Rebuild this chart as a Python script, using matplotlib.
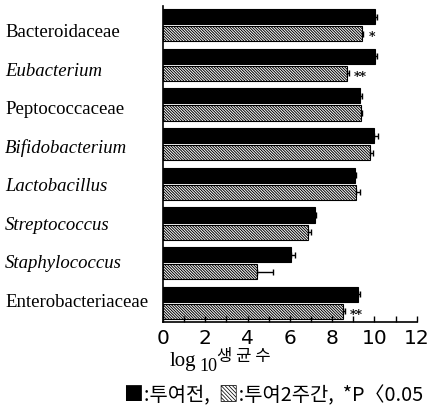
import matplotlib
matplotlib.use("Agg")
import matplotlib.pyplot as plt
import numpy as np

categories = ["Bacteroidaceae", "Eubacterium", "Peptococcaceae", "Bifidobacterium",
              "Lactobacillus", "Streptococcus", "Staphylococcus", "Enterobacteriaceae"]
italic_flags = [False, True, False, True, True, True, True, False]
before_vals = [10.05, 10.05, 9.3, 10.0, 9.08, 7.2, 6.05, 9.2]
before_err = [0.05, 0.05, 0.12, 0.15, 0.05, 0.05, 0.2, 0.1]
after_vals = [9.4, 8.7, 9.35, 9.78, 9.15, 6.85, 4.45, 8.52]
after_err = [0.08, 0.08, 0.05, 0.15, 0.15, 0.15, 0.75, 0.08]
signif = ["*", "**", "", "", "", "", "", "**"]
xticks = [0, 2, 4, 6, 8, 10, 12]

plt.rcParams['hatch.linewidth'] = 0.7
fig = plt.figure(figsize=(4.45, 4.06), dpi=100)
ax = fig.add_axes([163/445, 1-323/406, (416.7-163)/445, (323-7)/406])

y = np.arange(len(categories))
h = 0.38
off = 0.215
ax.barh(y - off, before_vals, height=h, color='black', edgecolor='black', linewidth=0.8,
        xerr=[np.zeros(len(y)), before_err], error_kw=dict(ecolor='black', elinewidth=1, capsize=2.5, capthick=1))
ax.barh(y + off, after_vals, height=h, color='white', edgecolor='black', hatch='\\' * 12, linewidth=0.8,
        xerr=[np.zeros(len(y)), after_err], error_kw=dict(ecolor='black', elinewidth=1, capsize=2.5, capthick=1))

for i, s in enumerate(signif):
    if s:
        ax.text(after_vals[i] + after_err[i] + 0.25, i + off + 0.08, s, ha='left', va='center',
                fontsize=9, family='DejaVu Serif', fontweight='bold')

ax.set_ylim(len(categories) - 0.52, -0.48)
ax.set_xlim(0, 12)
ax.set_xticks(xticks)
ax.set_xticks(range(13), minor=True)
ax.tick_params(axis='x', which='both', direction='in', length=4, width=1, pad=4)
ax.set_xticklabels([str(t) for t in xticks], family='DejaVu Sans', fontsize=14.5)
# category labels: slightly tighter pitch than the bar groups, as in the reference
ax.set_yticks(y * 0.97 + 0.277)
ax.set_yticklabels(categories)
for lab, it in zip(ax.get_yticklabels(), italic_flags):
    lab.set_family('Liberation Serif')
    lab.set_fontsize(13.5)
    lab.set_style('italic' if it else 'normal')
    lab.set_horizontalalignment('left')
    lab.set_verticalalignment('baseline')
ax.tick_params(axis='y', length=0, pad=158*0.72)
for sp in ['top', 'right']:
    ax.spines[sp].set_visible(False)
for sp in ['left', 'bottom']:
    ax.spines[sp].set_linewidth(1.2)

# x label pieces
fig.text(170/445, 1-366/406, "log", family='Liberation Serif', fontsize=15, ha='left', va='baseline')
fig.text(199/445, 1-371/406, "10", family='Liberation Serif', fontsize=13, ha='left', va='baseline')
fig.text(217/445, 1-361/406, "생 균 수", family=['Noto Sans CJK KR', 'DejaVu Sans'], fontsize=12, ha='left', va='baseline')

fig.text(124/445, 1-396/406, "■:투여전,  ▧:투여2주간,  *P〈0.05", family=['Noto Sans CJK KR', 'DejaVu Sans'],
         fontsize=14.3, ha='left', va='center')

fig.savefig("out.png", dpi=100)
